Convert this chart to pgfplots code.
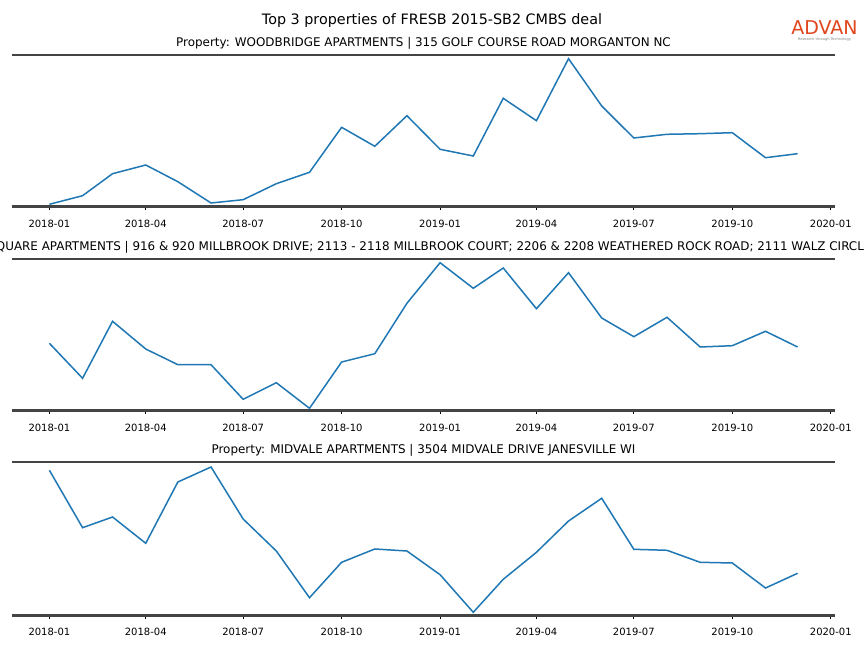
\documentclass[border=0pt]{standalone}
\usepackage{fontspec}
\setmainfont{DejaVu Sans}
\usepackage{pgfplots}
\pgfplotsset{compat=1.18}
\definecolor{mplblue}{HTML}{1F77B4}
\definecolor{spine}{HTML}{444444}
\definecolor{advan}{HTML}{E0461E}
\pgfplotsset{panel/.style={
  scale only axis, width=823pt, height=151.7pt, anchor=south west,
  xmin=-34.95, xmax=733.95, ymin=0, ymax=151.7,
  axis line style={draw=none},
  xtick={0,90,181,273,365,455,546,638,730},
  xticklabels={2018-01,2018-04,2018-07,2018-10,2019-01,2019-04,2019-07,2019-10,2020-01},
  xtick pos=lower, tick align=outside, major tick length=3.5pt,
  tick style={black, line width=0.8pt},
  xticklabel style={font=\fontsize{10}{12}\selectfont, yshift=-6pt},
  ytick=\empty,
  clip=false,
  title style={font=\fontsize{11.93}{14}\selectfont, anchor=base, at={(0.5,1)}, yshift=2.2pt},
  extra description/.code={
    \draw[spine, line width=2.4pt] (rel axis cs:0,0) -- (rel axis cs:1,0);
    \draw[spine, line width=2.4pt] (rel axis cs:0,1) -- (rel axis cs:1,1);
  },
}}
\begin{document}
\begin{tikzpicture}
\path[use as bounding box, clip] (0pt,0pt) rectangle (864pt,648pt);
\fill[white] (0pt,0pt) rectangle (864pt,648pt);
\node[anchor=base, font=\fontsize{14.35}{16}\selectfont] at (432pt,623.9pt) {Top 3 properties of FRESB 2015-SB2 CMBS deal};
\node[anchor=base, font=\fontsize{19}{20}\selectfont, text=advan, inner sep=0pt] at (824.5pt,613.5pt) {ADVAN};
\node[anchor=base, font=\fontsize{3.6}{4}\selectfont, text=gray, inner sep=0pt] at (824.5pt,607pt) {Research through Technology};

\begin{axis}[panel, at={(12pt,441.3pt)},
  title={Property: WOODBRIDGE APARTMENTS | 315 GOLF COURSE ROAD MORGANTON NC}]
\addplot[mplblue, line width=1.5pt] coordinates {(0,2.4)(31,11)(59,33)(90,41.7)(120,25)(151,3.7)(181,7)(212,23)(243,34.4)(273,79.4)(304,60.4)(334,91)(365,57.4)(396,50.7)(424,108.4)(455,86)(485,148)(516,100.7)(546,68.7)(577,72.4)(608,73)(638,74)(669,49)(699,53)};
\end{axis}

\begin{axis}[panel, at={(12pt,237.3pt)},
  title={Property: BROOK SQUARE APARTMENTS | 916 \& 920 MILLBROOK DRIVE; 2113 - 2118 MILLBROOK COURT; 2206 \& 2208 WEATHERED ROCK ROAD; 2111 WALZ CIRCLE RALEIGH NC},
  title style={xshift=-8pt}]
\addplot[mplblue, line width=1.5pt] coordinates {(0,67.4)(31,32.4)(59,89.4)(90,61.7)(120,46)(151,46)(181,11.4)(212,28)(243,2.4)(273,48.7)(304,57)(334,107.4)(365,148)(396,122.4)(424,142.7)(455,102)(485,138)(516,92.7)(546,74)(577,93.4)(608,63.7)(638,65)(669,79.4)(699,63.7)};
\end{axis}

\begin{axis}[panel, at={(12pt,32.7pt)}, height=153.3pt, ymax=153.3,
  title={Property: MIDVALE APARTMENTS | 3504 MIDVALE DRIVE JANESVILLE WI}]
\addplot[mplblue, line width=1.5pt] coordinates {(0,145)(31,87.6)(59,98.3)(90,72)(120,133.3)(151,148.3)(181,96.3)(212,64.3)(243,17.6)(273,53)(304,66.3)(334,64.3)(365,40.6)(396,3)(424,36)(455,63)(485,94.3)(516,117)(546,66)(577,65)(608,53)(638,52.3)(669,27.3)(699,42)};
\end{axis}
\end{tikzpicture}
\end{document}
